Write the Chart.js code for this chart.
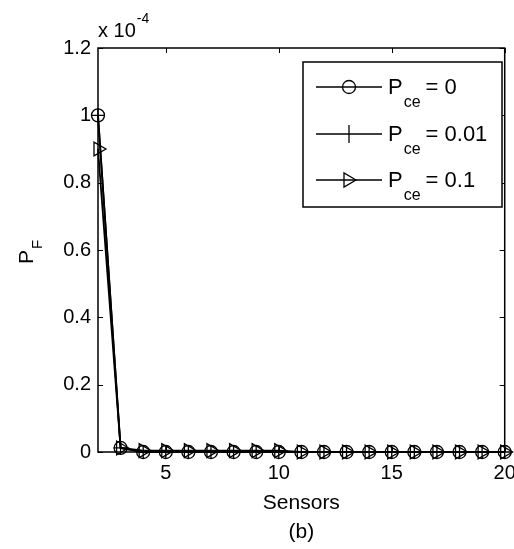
<!DOCTYPE html>
<html>
<head>
<meta charset="utf-8">
<script src="https://cdn.jsdelivr.net/npm/chart.js@4.4.0/dist/chart.umd.min.js"></script>
<style>
  body { margin: 0; background: #fff; }
  canvas { display: block; }
</style>
</head>
<body>
<canvas id="myChart" width="514" height="549"></canvas>
<script>
// Setup values (P_F, plotted on a x 10^-4 scale)
var sensors = [2, 3, 4, 5, 6, 7, 8, 9, 10, 11, 12, 13, 14, 15, 16, 17, 18, 19, 20];
var pce0   = [1.0e-4, 0.012e-4, 0, 0, 0, 0, 0, 0, 0, 0, 0, 0, 0, 0, 0, 0, 0, 0, 0];
var pce001 = [1.0e-4, 0.012e-4, 0, 0, 0, 0, 0, 0, 0, 0, 0, 0, 0, 0, 0, 0, 0, 0, 0];
var pce01  = [0.9e-4, 0.012e-4, 0.004e-4, 0.004e-4, 0.004e-4, 0.004e-4, 0.004e-4, 0.004e-4, 0.004e-4, 0, 0, 0, 0, 0, 0, 0, 0, 0, 0];
var seriesNames = ["0", "0.01", "0.1"];
var yTicks = [0, 0.2e-4, 0.4e-4, 0.6e-4, 0.8e-4, 1.0e-4, 1.2e-4];
var xTicks = [5, 10, 15, 20];

var fontFam = "'Liberation Sans', Arial, sans-serif";

function toPoints(vals){
  return sensors.map(function(s, i){ return {x: s, y: vals[i]}; });
}

function makeSet(label, vals, style, radius, rot){
  return {
    label: label,
    data: toPoints(vals),
    borderColor: "#000",
    borderWidth: 1.8,
    pointStyle: style,
    pointRadius: radius,
    pointRotation: rot,
    pointBorderColor: "#000",
    pointBackgroundColor: "rgba(0,0,0,0)",
    pointBorderWidth: 1.3,
    tension: 0,
    clip: false
  };
}

// small marker painter for the legend box
function marker(ctx, style, x, y){
  ctx.beginPath();
  if (style === "circle") {
    ctx.arc(x, y, 6.5, 0, Math.PI * 2);
  } else if (style === "cross") {
    ctx.moveTo(x, y - 9); ctx.lineTo(x, y + 9);
  } else {
    ctx.moveTo(x + 7, y);
    ctx.lineTo(x - 5, y - 7);
    ctx.lineTo(x - 5, y + 7);
    ctx.closePath();
  }
  ctx.stroke();
}

// MATLAB style frame, inward ticks, labels and legend
var matlabFrame = {
  id: "matlabFrame",
  afterDraw: function(chart){
    var ctx = chart.ctx;
    var a = chart.chartArea;
    var xs = chart.scales.x, ys = chart.scales.y;
    ctx.save();
    ctx.strokeStyle = "#000";
    ctx.lineWidth = 1.5;
    ctx.strokeRect(a.left, a.top, a.right - a.left, a.bottom - a.top);

    ctx.lineWidth = 1;
    ctx.beginPath();
    xTicks.forEach(function(v){
      var px = Math.round(xs.getPixelForValue(v)) + 0.5;
      ctx.moveTo(px, a.bottom); ctx.lineTo(px, a.bottom - 5);
      ctx.moveTo(px, a.top); ctx.lineTo(px, a.top + 5);
    });
    yTicks.forEach(function(v){
      var py = Math.round(ys.getPixelForValue(v)) + 0.5;
      ctx.moveTo(a.left, py); ctx.lineTo(a.left + 5, py);
      ctx.moveTo(a.right, py); ctx.lineTo(a.right - 5, py);
    });
    ctx.stroke();

    ctx.fillStyle = "#000";
    ctx.textAlign = "left";
    ctx.textBaseline = "alphabetic";

    // exponent label
    ctx.font = "20px " + fontFam;
    ctx.fillText("x 10", a.left, 37);
    var w = ctx.measureText("x 10").width;
    ctx.font = "14px " + fontFam;
    ctx.fillText("-4", a.left + w + 1, 23);

    // y axis label P_F
    ctx.save();
    ctx.translate(33, 264);
    ctx.rotate(-Math.PI / 2);
    ctx.font = "21px " + fontFam;
    ctx.fillText("P", 0, 0);
    var pw = ctx.measureText("P").width;
    ctx.font = "15px " + fontFam;
    ctx.fillText("F", pw + 1, 9);
    ctx.restore();

    // legend
    var bx = 303, by = 62, bw = 199, bh = 145;
    ctx.fillStyle = "#fff";
    ctx.fillRect(bx, by, bw, bh);
    ctx.lineWidth = 1.5;
    ctx.strokeRect(bx, by, bw, bh);
    var rows = [87, 134, 180];
    var styles = ["circle", "cross", "tri"];
    ctx.fillStyle = "#000";
    rows.forEach(function(ry, i){
      ctx.lineWidth = 1.5;
      ctx.beginPath();
      ctx.moveTo(316, ry); ctx.lineTo(382, ry);
      ctx.stroke();
      ctx.lineWidth = 1.3;
      marker(ctx, styles[i], 349, ry);
      ctx.font = "22px " + fontFam;
      ctx.fillText("P", 388, ry + 7);
      var tx = 388 + ctx.measureText("P").width + 1;
      ctx.font = "16px " + fontFam;
      ctx.fillText("ce", tx, ry + 20);
      tx += ctx.measureText("ce").width + 5;
      ctx.font = "22px " + fontFam;
      ctx.fillText("= " + seriesNames[i], tx, ry + 7);
    });
    ctx.restore();
  }
};

var myChart = new Chart(document.getElementById("myChart").getContext("2d"), {
  type: "line",
  data: {
    datasets: [
      makeSet("Pce = 0", pce0, "circle", 6.5, 0),
      makeSet("Pce = 0.01", pce001, "cross", 7, 0),
      makeSet("Pce = 0.1", pce01, "triangle", 8, 90)
    ]
  },
  options: {
    responsive: false,
    animation: false,
    devicePixelRatio: 1,
    layout: { padding: { left: 0, top: 48, right: 3, bottom: 0 } },
    plugins: { legend: { display: false }, tooltip: { enabled: false } },
    scales: {
      x: {
        type: "linear",
        min: 2, max: 20,
        afterBuildTicks: function(scale){
          scale.ticks = xTicks.map(function(v){ return {value: v}; });
        },
        afterFit: function(scale){
          scale.height = 97;
          scale.paddingLeft = 0; scale.paddingRight = 0;
        },
        grid: { display: false, drawTicks: false },
        border: { display: false },
        ticks: { color: "#000", padding: 9, maxRotation: 0, font: { family: fontFam, size: 20 } },
        title: {
          display: true,
          text: ["Sensors", "(b)"],
          color: "#000",
          padding: { top: 0, bottom: 2 },
          font: { family: fontFam, size: 21, lineHeight: 1.38 }
        }
      },
      y: {
        min: 0, max: 1.2e-4,
        afterBuildTicks: function(scale){
          scale.ticks = yTicks.map(function(v){ return {value: v}; });
        },
        afterFit: function(scale){
          scale.width = 98;
          scale.paddingTop = 0; scale.paddingBottom = 0;
        },
        grid: { display: false, drawTicks: false },
        border: { display: false },
        ticks: {
          color: "#000", padding: 7,
          font: { family: fontFam, size: 20 },
          callback: function(v){ return String(+(v / 1e-4).toFixed(1)); }
        }
      }
    }
  },
  plugins: [matlabFrame]
});
</script>
</body>
</html>
